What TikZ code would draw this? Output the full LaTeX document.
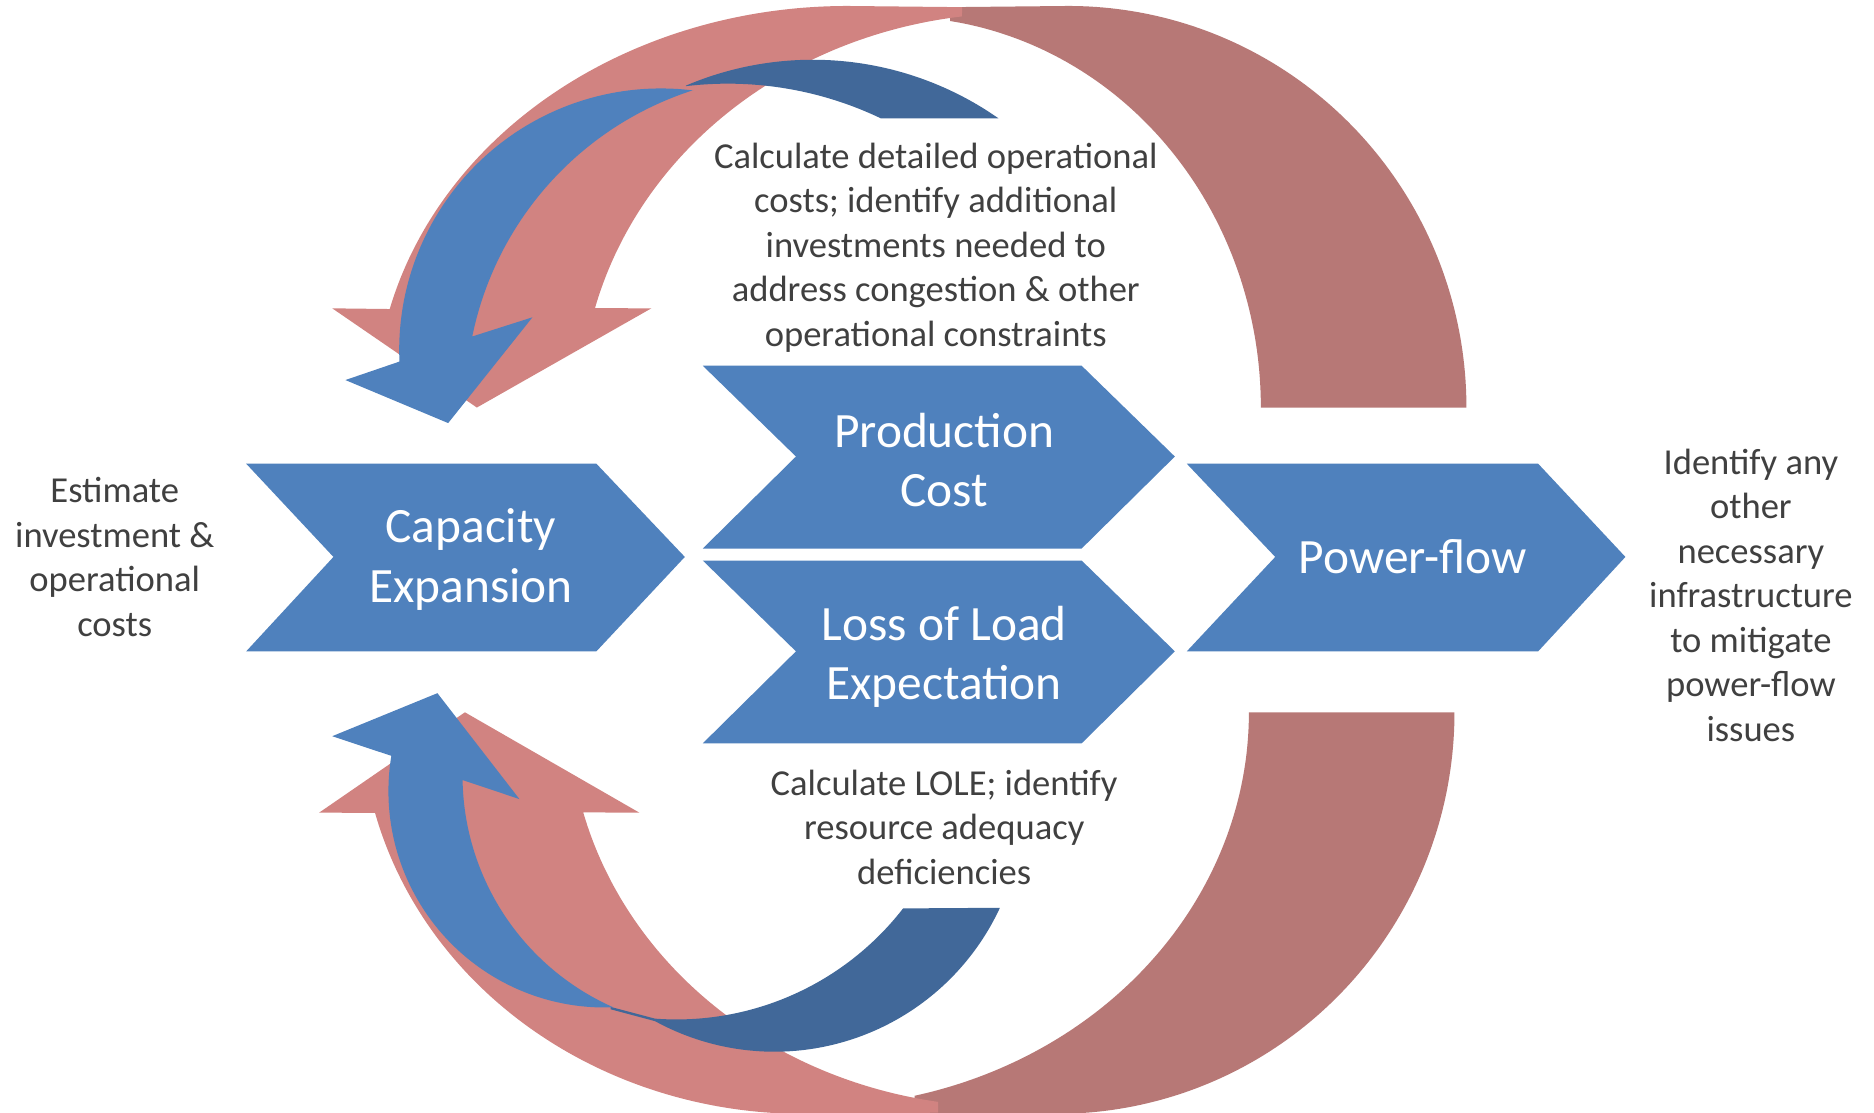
\documentclass[tikz,border=0pt]{standalone}
\usepackage{fontspec}
\setmainfont{Carlito}
\definecolor{lred}{HTML}{D18381}
\definecolor{dred}{HTML}{B77876}
\definecolor{lblue}{HTML}{4F81BD}
\definecolor{dblue}{HTML}{416899}
\definecolor{txt}{HTML}{404040}
\begin{document}
\begin{tikzpicture}[x=0.01cm,y=-0.01cm,
  chev/.style={fill=lblue},
  arcs/.style={samples=90, variable=\t},
  desc/.style={text=txt, font=\fontsize{8.7}{10.6}\selectfont, align=center, inner sep=0pt},
  ctext/.style={text=white, font=\fontsize{11.75}{14.2}\selectfont, align=center, inner sep=0pt}]
\useasboundingbox (0,0) rectangle (1568,931);
\fill[white] (0,0) rectangle (1568,931);

% ---------- top red arrow ----------
\fill[dred] (795,6) -- (894,5)
  -- plot[arcs, domain=90:0] ({894+333*cos(\t)},{341-336*sin(\t)})
  -- plot[arcs, domain=0:81.5] ({750+305*cos(\t)},{341-327*sin(\t)}) -- cycle;
\fill[lred] (399,341) -- (278,258)
  -- plot[arcs, domain=165.8:90] ({709+395*cos(\t)},{341-336*sin(\t)})
  -- (805,6)
  -- plot[arcs, domain=97.4:165.4] ({852+366*cos(\t)},{341-330*sin(\t)})
  -- (545,258) -- cycle;

% ---------- bottom red arrow ----------
\fill[dred] (765,931) -- (884,932)
  -- plot[arcs, domain=90:0] ({884+333*cos(\t)},{596+336*sin(\t)})
  -- plot[arcs, domain=0:76.5] ({680+365*cos(\t)},{596+330*sin(\t)}) -- cycle;
\fill[lred] (389,596) -- (535,680)
  -- plot[arcs, domain=165.3:98.96] ({842+366*cos(\t)},{596+330*sin(\t)})
  -- (785,931)
  -- plot[arcs, domain=90:165.5] ({672+370*cos(\t)},{596+336*sin(\t)})
  -- (267,680) -- cycle;

% ---------- top blue arrow ----------
\fill[dblue] plot[arcs, domain=113.06:55] ({680+271*cos(\t)},{321-271*sin(\t)})
  -- plot[arcs, domain=64.47:96.77] ({609+297*cos(\t)},{367-297*sin(\t)}) -- cycle;
\fill[lblue] (375,354) -- (289,318)
  -- plot[arcs, domain=182.5:82.9] ({553+219*cos(\t)},{293-219*sin(\t)})
  -- plot[arcs, domain=107.8:168.45] ({663.6+274*cos(\t)},{336.4-274*sin(\t)})
  -- (445.5,265.5) -- cycle;

% ---------- bottom blue arrow ----------
\fill[dblue] (511,842.5)
  -- plot[arcs, domain=-94.3:-37.8] ({566+240*cos(\t)},{613-240*sin(\t)})
  -- plot[arcs, domain=-24.9:-118.7] ({648+208*cos(\t)},{672-208*sin(\t)})
  -- (511,844.5) -- cycle;
\fill[lblue] (366,580) -- (434.6,668.6)
  -- plot[arcs, domain=181:246.1] ({599+212*cos(\t)},{649-212*sin(\t)})
  -- plot[arcs, domain=272.2:170.6] ({506+181*cos(\t)},{662-181*sin(\t)})
  -- (278,616) -- cycle;

% ---------- chevrons ----------
\fill[chev] (206,388) -- (499,388) -- (573,466) -- (499,545) -- (206,545) -- (279,466) -- cycle;
\fill[chev] (588,306) -- (905,306) -- (983,382) -- (905,459) -- (588,459) -- (666,382) -- cycle;
\fill[chev] (588,469) -- (905,469) -- (983,545) -- (905,622) -- (588,622) -- (666,545) -- cycle;
\fill[chev] (993,388) -- (1287,388) -- (1360,466) -- (1287,545) -- (993,545) -- (1067,466) -- cycle;

\node[ctext] (cap) at (394,468) {Capacity\\Expansion};
\node[ctext] (prod) at (790,385) {Production\\Cost};
\node[ctext] (lole) at (790,549.5) {Loss of Load\\Expectation};
\node[ctext] (pf) at (1182,466) {Power-flow};

% ---------- descriptions ----------
\node[desc] (est) at (96,466) {Estimate\\investment \&\\operational\\costs};
\node[desc] (pcdesc) at (783,207) {Calculate detailed operational\\costs; identify additional\\investments needed to\\address congestion \& other\\operational constraints};
\node[desc] (loledesc) at (790,692) {Calculate LOLE; identify\\resource adequacy\\deficiencies};
\node[desc] (pfdesc) at (1465,498) {Identify any\\other\\necessary\\infrastructure\\to mitigate\\power-flow\\issues};
\end{tikzpicture}
\end{document}
